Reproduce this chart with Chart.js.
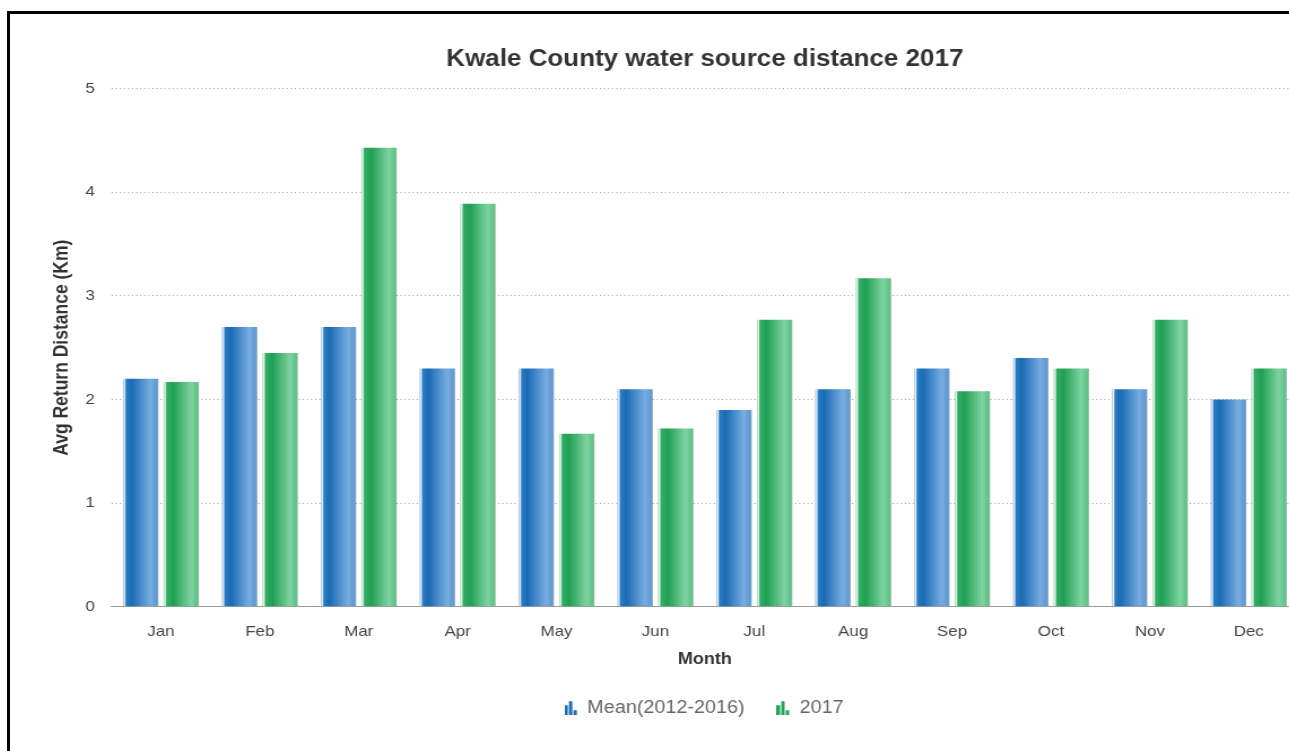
<!DOCTYPE html>
<html>
<head>
<meta charset="utf-8">
<script src="https://cdn.jsdelivr.net/npm/chart.js@4/dist/chart.umd.min.js"></script>
<style>
  html, body { margin: 0; padding: 0; background: #fff; overflow: hidden; }
  body { width: 1289px; height: 751px; position: relative; }
  .frame { position: absolute; left: 7px; top: 11px; width: 1400px; height: 800px;
           border-top: 3px solid #000; border-left: 3px solid #000; }
  #chart { position: absolute; left: 10px; top: 14px;
           transform: scaleX(1.13); transform-origin: 0 0; }
</style>
</head>
<body>
<div class="frame"></div>
<canvas id="chart" width="1228" height="737"></canvas>
<script>
// Average return distance to water source, Kwale County
const months = ['Jan', 'Feb', 'Mar', 'Apr', 'May', 'Jun', 'Jul', 'Aug', 'Sep', 'Oct', 'Nov', 'Dec'];
const meanValues = [2.2, 2.7, 2.7, 2.3, 2.3, 2.1, 1.9, 2.1, 2.3, 2.4, 2.1, 2.0];
const values2017 = [2.17, 2.45, 4.43, 3.89, 1.67, 1.72, 2.77, 3.17, 2.08, 2.3, 2.77, 2.3];
const seriesNames = ['Mean(2012-2016)', '2017'];
const yTicks = [0, 1, 2, 3, 4, 5];

const FONT = '"Liberation Sans", Arial, Helvetica, sans-serif';

// Horizontal shading per series: thin pale edge on the left, dark body, lighter right side
const shades = {
  blue: [[0, '#9fb7cf'], [0.045, '#e4f1ff'], [0.09, '#2a7cc3'], [0.25, '#1a6bb4'], [0.78, '#78ade1'], [0.94, '#5e9ad3'], [1, '#8aa6c2']],
  green: [[0, '#a6cbb4'], [0.045, '#e6fbee'], [0.09, '#34ad66'], [0.28, '#20a054'], [0.78, '#80d3a2'], [0.94, '#5ec488'], [1, '#8cb89d']]
};

// Small bar-glyph used as the legend marker
function legendGlyph(color) {
  const c = document.createElement('canvas');
  c.width = 13; c.height = 15;
  const g = c.getContext('2d');
  g.fillStyle = color;
  g.fillRect(0, 5, 3, 10);
  g.fillRect(4, 1, 3, 14);
  g.fillRect(8, 10, 3, 5);
  return c;
}

const barShading = {
  id: 'barShading',
  beforeDatasetsDraw(chart) {
    const ctx = chart.ctx;
    chart.data.datasets.forEach((ds, di) => {
      const meta = chart.getDatasetMeta(di);
      const stops = shades[ds.shade];
      meta.data.forEach(el => {
        const { x, width } = el.getProps(['x', 'width'], true);
        const grad = ctx.createLinearGradient(x - width / 2, 0, x + width / 2, 0);
        stops.forEach(s => grad.addColorStop(s[0], s[1]));
        el.options.backgroundColor = grad;
      });
    });
  }
};

// Title and legend are centred over the plot area rather than the whole canvas
const centerOnPlot = {
  id: 'centerOnPlot',
  afterLayout(chart) {
    const { left, right } = chart.chartArea;
    [chart.titleBlock, chart.legend].forEach(box => {
      if (box) { box.left = left; box.right = right; box.width = right - left; }
    });
  }
};

new Chart(document.getElementById('chart'), {
  type: 'bar',
  data: {
    labels: months,
    datasets: [
      { label: seriesNames[0], data: meanValues, shade: 'blue',
        backgroundColor: () => '#1f72bb', borderWidth: 0,
        pointStyle: legendGlyph('#1f6fb8') },
      { label: seriesNames[1], data: values2017, shade: 'green',
        backgroundColor: () => '#2aa65c', borderWidth: 0,
        pointStyle: legendGlyph('#22a556') }
    ]
  },
  options: {
    responsive: false,
    animation: false,
    events: [],
    categoryPercentage: 0.82,
    barPercentage: 0.875,
    layout: { padding: { top: 32, right: 88, left: 35.5, bottom: 24.5 } },
    plugins: {
      title: {
        display: true,
        text: 'Kwale County water source distance 2017',
        color: '#333',
        font: { family: FONT, size: 23, weight: 'bold' },
        padding: { top: 0, bottom: 15 }
      },
      legend: {
        position: 'bottom',
        labels: {
          usePointStyle: true,
          pointStyleWidth: 10,
          color: '#666',
          font: { family: FONT, size: 17.5 },
          padding: 30
        }
      },
      tooltip: { enabled: false }
    },
    scales: {
      x: {
        grid: { display: false },
        border: { display: true, color: '#9a9a9a', width: 1 },
        ticks: { color: '#444', font: { family: FONT, size: 15 }, padding: 8 },
        title: { display: true, text: 'Month', color: '#333',
                 font: { family: FONT, size: 16, weight: 'bold' }, padding: { top: 1, bottom: 0 } }
      },
      y: {
        min: 0, max: 5,
        afterBuildTicks: axis => { axis.ticks = yTicks.map(v => ({ value: v })); },
        afterFit: axis => { axis.width = 54.3; },
        grid: {
          color: c => (c.tick && c.tick.value === 0) ? 'rgba(0,0,0,0)' : '#9a9a9a',
          drawTicks: false
        },
        border: { display: false, dash: [1, 2.6] },
        ticks: { color: '#444', font: { family: FONT, size: 15 }, padding: 14.6 },
        title: { display: true, text: 'Avg Return Distance (Km)', color: '#333',
                 font: { family: FONT, size: 17.5, weight: 'bold' }, padding: { top: 0, bottom: 0 } }
      }
    }
  },
  plugins: [barShading, centerOnPlot]
});
</script>
</body>
</html>
